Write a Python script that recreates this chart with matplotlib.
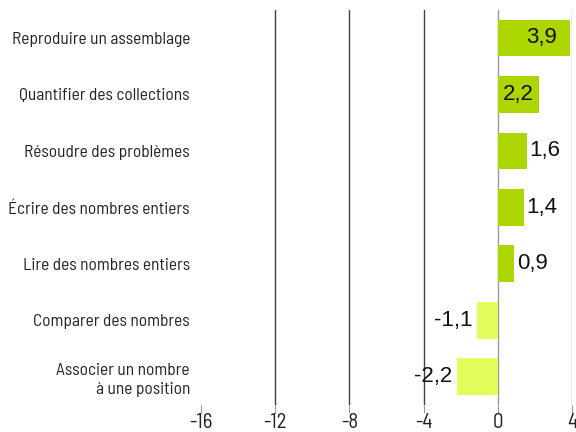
import numpy as np
import matplotlib.pyplot as plt

# data
categories = ["Reproduire un assemblage", "Quantifier des collections",
              "Résoudre des problèmes", "Écrire des nombres entiers",
              "Lire des nombres entiers", "Comparer des nombres",
              "Associer un nombre\nà une position"]
values = [3.9, 2.2, 1.6, 1.4, 0.9, -1.1, -2.2]
ticks = [-16, -12, -8, -4, 0, 4]

narrow = ["Barlow Semi Condensed", "Archivo Narrow", "DejaVu Sans"]

fig = plt.figure(figsize=(5.76, 4.32), dpi=100)
ax = fig.add_axes([0.349, 0.0625, 0.644, 0.915])

y = np.arange(len(values))
colors = ["#acd600" if v > 0 else "#e1fd59" for v in values]
ax.barh(y, values, height=0.65, color=colors, zorder=3)

# gridlines
for t in ticks[1:]:
    ax.axvline(t, color="#404040" if t < 0 else "#9a9a9a", lw=1, zorder=1)

# value labels (two top ones sit inside the bar)
for yi, v in zip(y, values):
    lab = f"{v:.1f}".replace(".", ",")
    if v >= 3:
        x, ha = v - 0.7, "right"
    elif v >= 2:
        x, ha = v - 0.25, "right"
    elif v > 0:
        x, ha = v + 0.12, "left"
    else:
        x, ha = v - 0.28, "right"
    ax.text(x, yi, lab, ha=ha, va="center", fontsize=16,
            family="Liberation Sans", color="#111111", zorder=4)

ax.set_xlim(-16, 4)
ax.set_ylim(len(values) - 0.5, -0.5)
ax.set_xticks(ticks)
ax.set_xticklabels([str(t) for t in ticks], fontsize=15, family=narrow,
                   color="#222222")
ax.set_yticks(y)
ax.set_yticklabels(categories, fontsize=12.5, family=narrow, ha="right",
                   color="#222222", linespacing=1.3)
ax.tick_params(axis="y", length=0, pad=8)
ax.tick_params(axis="x", length=6, color="#999999", pad=0)
for s in ax.spines.values():
    s.set_visible(False)

fig.savefig("out.png")
